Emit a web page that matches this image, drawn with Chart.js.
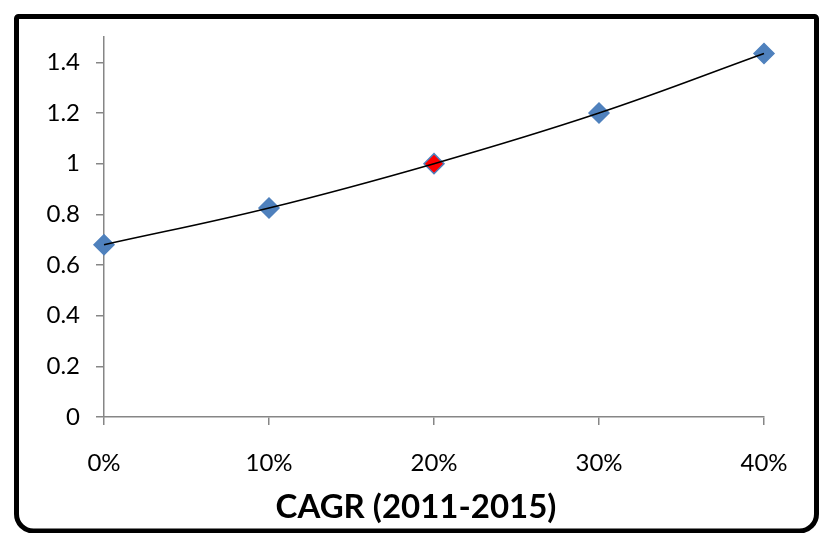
<!DOCTYPE html>
<html>
<head>
<meta charset="utf-8">
<script src="https://cdn.jsdelivr.net/npm/chart.js@4/dist/chart.umd.min.js"></script>
<style>
  html, body { margin: 0; padding: 0; background: #ffffff; }
  #wrap { width: 819px; height: 533px; position: relative; }
</style>
</head>
<body>
<div id="wrap"><canvas id="c" width="819" height="533"></canvas></div>
<script>
// Growth-rate scenarios (x) and the resulting index value (y)
const cagrRates = [0, 0.1, 0.2, 0.3, 0.4];
const indexValues = [0.68, 0.825, 1.0, 1.2, 1.435];
const baseCaseRate = 0.2;

const xTickValues = [0, 0.1, 0.2, 0.3, 0.4];
const xTickLabels = ['0%', '10%', '20%', '30%', '40%'];
const yTickValues = [0, 0.2, 0.4, 0.6, 0.8, 1.0, 1.2, 1.4];
const yTickLabels = ['0', '0.2', '0.4', '0.6', '0.8', '1', '1.2', '1.4'];
const xAxisTitle = 'CAGR (2011-2015)';

const points = cagrRates.map((x, i) => ({ x: x, y: indexValues[i] }));

const AXIS_GREY = '#868686';
const MARKER_BLUE = '#4F81BD';

// White page with the heavy rounded frame around the chart
const framePlugin = {
  id: 'frame',
  beforeDraw(chart) {
    const ctx = chart.ctx;
    ctx.save();
    ctx.fillStyle = '#ffffff';
    ctx.fillRect(0, 0, chart.width, chart.height);
    const l = 16.5, t = 16.5, r = 816.5, b = 531, rs = 2, rb = 17;
    ctx.beginPath();
    ctx.moveTo(l + rs, t);
    ctx.lineTo(r - rs, t);
    ctx.arcTo(r, t, r, t + rs, rs);
    ctx.lineTo(r, b - rb);
    ctx.arcTo(r, b, r - rb, b, rb);
    ctx.lineTo(l + rb, b);
    ctx.arcTo(l, b, l, b - rb, rb);
    ctx.lineTo(l, t + rs);
    ctx.arcTo(l, t, l + rs, t, rs);
    ctx.closePath();
    ctx.lineWidth = 5;
    ctx.strokeStyle = '#000000';
    ctx.stroke();
    ctx.restore();
  },
  afterDraw(chart) {
    const ctx = chart.ctx;
    ctx.save();
    ctx.font = 'bold 33px Lato';
    ctx.fillStyle = '#000000';
    ctx.textAlign = 'center';
    ctx.textBaseline = 'alphabetic';
    ctx.fillText(xAxisTitle, 416, 518);
    ctx.restore();
  }
};

new Chart(document.getElementById('c'), {
  type: 'scatter',
  data: {
    datasets: [
      {
        // smooth connecting curve, drawn above the markers
        type: 'line',
        data: points,
        borderColor: '#000000',
        borderWidth: 1.5,
        tension: 0.4,
        pointRadius: 0,
        fill: false,
        clip: false,
        order: 1
      },
      {
        data: points,
        pointStyle: 'rectRot',
        pointRadius: 10,
        pointHoverRadius: 10,
        pointBackgroundColor: ctx => (ctx.raw && ctx.raw.x === baseCaseRate) ? '#FF0000' : MARKER_BLUE,
        pointBorderColor: MARKER_BLUE,
        pointBorderWidth: 1.5,
        showLine: false,
        clip: false,
        order: 2
      }
    ]
  },
  options: {
    responsive: false,
    animation: false,
    events: [],
    layout: { padding: { left: 0, top: 37, right: 55, bottom: 0 } },
    plugins: {
      legend: { display: false },
      tooltip: { enabled: false }
    },
    scales: {
      x: {
        type: 'linear',
        min: 0,
        max: 0.4,
        afterBuildTicks: s => { s.ticks = xTickValues.map(v => ({ value: v })); },
        afterFit: s => { s.height = 116; },
        ticks: {
          callback: (v, i) => xTickLabels[i],
          font: { family: 'Lato', size: 24 },
          color: '#000000',
          padding: 24,
          maxRotation: 0,
          autoSkip: false
        },
        grid: {
          drawOnChartArea: false,
          drawTicks: true,
          tickLength: 8,
          color: AXIS_GREY,
          lineWidth: 1.5
        },
        border: { display: true, color: AXIS_GREY, width: 1.5 }
      },
      y: {
        type: 'linear',
        min: 0,
        max: 1.5,
        afterBuildTicks: s => { s.ticks = yTickValues.map(v => ({ value: v })); },
        afterFit: s => { s.width = 104; },
        ticks: {
          callback: (v, i) => yTickLabels[i],
          font: { family: 'Lato', size: 24 },
          color: '#000000',
          padding: 16,
          autoSkip: false
        },
        grid: {
          drawOnChartArea: false,
          drawTicks: true,
          tickLength: 8,
          color: AXIS_GREY,
          lineWidth: 1.5
        },
        border: { display: true, color: AXIS_GREY, width: 1.5 }
      }
    }
  },
  plugins: [framePlugin]
});
</script>
</body>
</html>
